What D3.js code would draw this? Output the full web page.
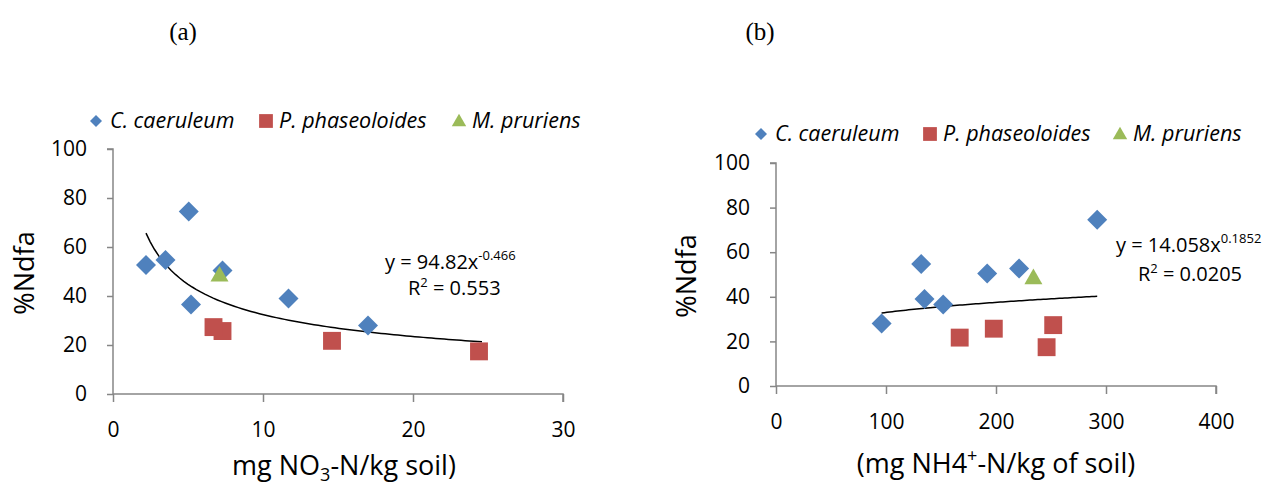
<!DOCTYPE html>
<html>
<head>
<meta charset="utf-8">
<script src="https://cdn.jsdelivr.net/npm/d3@7"></script>
<style>
  body { margin: 0; background: #fff; }
  svg { display: block; font-family: "Open Sans", sans-serif; }
</style>
</head>
<body>
<script>
// 三个物种的数据（两个图共用 %Ndfa）
var species = ["C. caeruleum", "P. phaseoloides", "M. pruriens"];

var ndfaCc = [28.0, 36.5, 39.0, 50.4, 52.7, 54.7, 74.5];
var no3Cc = [17.0, 5.2, 11.7, 7.3, 2.2, 3.5, 5.05];
var nh4Cc = [96, 152, 135, 192, 221, 132, 292];

var ndfaPp = [17.4, 21.7, 25.7, 27.3];
var no3Pp = [24.4, 14.6, 7.3, 6.7];
var nh4Pp = [246, 167, 198, 252];

var ndfaMp = [48.0];
var no3Mp = [7.1];
var nh4Mp = [234];

// 刻度
var yTicks = [0, 20, 40, 60, 80, 100];
var xTicksA = [0, 10, 20, 30];
var xTicksB = [0, 100, 200, 300, 400];

// 幂函数趋势线 y = a * x^b
var fitA = { a: 94.82, b: -0.466, eq: "94.82x", exp: "-0.466", r2: "0.553" };
var fitB = { a: 14.058, b: 0.1852, eq: "14.058x", exp: "0.1852", r2: "0.0205" };

var colors = ["#4F81BD", "#C0504D", "#9BBB59"];
var axisColor = "#868686";

var svg = d3.select("body").append("svg")
  .attr("width", 1271)
  .attr("height", 482);

// 标记：菱形自己画，方块和三角用 d3.symbol
function markerPath(k, s) {
  if (k === 0) return "M0," + (-s) + "L" + s + ",0L0," + s + "L" + (-s) + ",0Z";
  var sym = k === 1 ? d3.symbolSquare : d3.symbolTriangle;
  return d3.symbol().type(sym).size(s)();
}

function drawPanel(p) {
  var g = svg.append("g");
  var x = d3.scaleLinear().domain(p.xDomain).range(p.xRange);
  var y = d3.scaleLinear().domain([0, 100]).range(p.yRange);

  // 面板标题 (a)/(b)
  svg.append("text")
    .attr("x", p.title[1]).attr("y", p.title[2])
    .attr("text-anchor", "middle")
    .style("font-family", "'Liberation Serif', 'Times New Roman', serif")
    .style("font-size", "25px")
    .text(p.title[0]);

  // y 轴
  var yAxis = g.append("g")
    .attr("transform", "translate(" + p.xRange[0] + ",0)")
    .call(d3.axisLeft(y).tickValues(yTicks).tickSize(6).tickPadding(20));
  // x 轴
  var xAxis = g.append("g")
    .attr("transform", "translate(0," + p.yRange[0] + ")")
    .call(d3.axisBottom(x).tickValues(p.xTicks).tickSize(8).tickPadding(p.xPad));
  [yAxis, xAxis].forEach(function (a) {
    a.select(".domain").attr("stroke", axisColor).attr("stroke-width", 1.5);
    a.selectAll(".tick line").attr("stroke", axisColor).attr("stroke-width", 1.5);
    a.selectAll("text").attr("fill", "#000").style("font-size", "21px")
      .style("font-family", "'Open Sans', sans-serif");
  });
  yAxis.select(".domain").attr("d", "M0," + p.yRange[0] + "V" + p.yRange[1] + "H-6");
  xAxis.select(".domain").attr("d", "M" + p.xRange[0] + ",0H" + p.xRange[1] + "V8");

  // 趋势线
  var xs = d3.range(0, 81).map(function (i) {
    return p.trendX[0] + (p.trendX[1] - p.trendX[0]) * i / 80;
  });
  g.append("path")
    .datum(xs)
    .attr("fill", "none")
    .attr("stroke", "#000")
    .attr("stroke-width", 1.5)
    .attr("d", d3.line()
      .x(function (d) { return x(d); })
      .y(function (d) { return y(p.fit.a * Math.pow(d, p.fit.b)); }));

  // 散点
  p.series.forEach(function (s, k) {
    var pts = s.x.map(function (v, i) { return [v, s.y[i]]; });
    g.selectAll(null).data(pts).enter().append("path")
      .attr("d", markerPath(k, [10, 320, 140][k]))
      .attr("transform", function (d) {
        return "translate(" + x(d[0]) + "," + y(d[1]) + ")";
      })
      .attr("fill", colors[k]);
  });

  // 方程
  var eq = g.append("text")
    .attr("x", p.eqPos[0]).attr("y", p.eqPos[1])
    .style("font-size", "20px");
  eq.append("tspan").text("y = " + p.fit.eq);
  eq.append("tspan").attr("dy", -9).style("font-size", "13px").text(p.fit.exp);
  var r2 = g.append("text")
    .attr("x", p.r2Pos[0]).attr("y", p.r2Pos[1])
    .style("font-size", "20px");
  r2.append("tspan").text("R");
  r2.append("tspan").attr("dy", -8).style("font-size", "13px").text("2");
  r2.append("tspan").attr("dy", 8).text(" = " + p.fit.r2);

  // 图例
  var lg = g.append("g").attr("transform", "translate(" + p.legend[0] + "," + p.legend[1] + ")");
  species.forEach(function (name, k) {
    var ox = p.legendX[k];
    lg.append("path")
      .attr("d", markerPath(k, [6, 190, 90][k]))
      .attr("transform", "translate(" + ox + "," + (k === 2 ? 1 : 0) + ")")
      .attr("fill", colors[k]);
    lg.append("text")
      .attr("x", ox + (k === 0 ? 14 : 13)).attr("y", 7)
      .style("font-size", "21.5px")
      .style("font-style", "italic")
      .text(name);
  });

  // y 轴标题
  g.append("text")
    .attr("transform", "translate(" + p.yTitle[0] + "," + p.yTitle[1] + ") rotate(-90)")
    .attr("text-anchor", "middle")
    .style("font-size", "27px")
    .text("%Ndfa");

  // x 轴标题
  var xt = g.append("text")
    .attr("x", p.xTitle[0]).attr("y", p.xTitle[1])
    .attr("text-anchor", "middle")
    .style("font-size", "27px");
  p.xTitleParts.forEach(function (part) {
    var t = xt.append("tspan").text(part[0]);
    if (part[1] === "sub") t.attr("dy", 6).style("font-size", "18px");
    if (part[1] === "sup") t.attr("dy", -11).style("font-size", "18px");
    if (part[1] === "back") t.attr("dy", part[2]);
  });
}

drawPanel({
  title: ["(a)", 183, 40],
  xDomain: [0, 30], xRange: [113, 563], yRange: [394, 149],
  xTicks: xTicksA, xPad: 20,
  fit: fitA, trendX: [2.2, 24.6],
  series: [
    { x: no3Cc, y: ndfaCc },
    { x: no3Pp, y: ndfaPp },
    { x: no3Mp, y: ndfaMp }
  ],
  eqPos: [385, 269], r2Pos: [408, 295],
  legend: [96, 121], legendX: [0, 170, 363],
  yTitle: [34, 273],
  xTitle: [344, 475],
  xTitleParts: [["mg NO"], ["3", "sub"], ["-N/kg soil)", "back", -6]]
});

drawPanel({
  title: ["(b)", 760, 40],
  xDomain: [0, 400], xRange: [776, 1216], yRange: [386, 163],
  xTicks: xTicksB, xPad: 20,
  fit: fitB, trendX: [96, 292],
  series: [
    { x: nh4Cc, y: ndfaCc },
    { x: nh4Pp, y: ndfaPp },
    { x: nh4Mp, y: ndfaMp }
  ],
  eqPos: [1116, 252], r2Pos: [1138, 281],
  legend: [761, 134], legendX: [0, 169, 359],
  yTitle: [696, 276],
  xTitle: [996, 473],
  xTitleParts: [["(mg NH4"], ["+", "sup"], ["-N/kg of soil)", "back", 11]]
});
</script>
</body>
</html>
